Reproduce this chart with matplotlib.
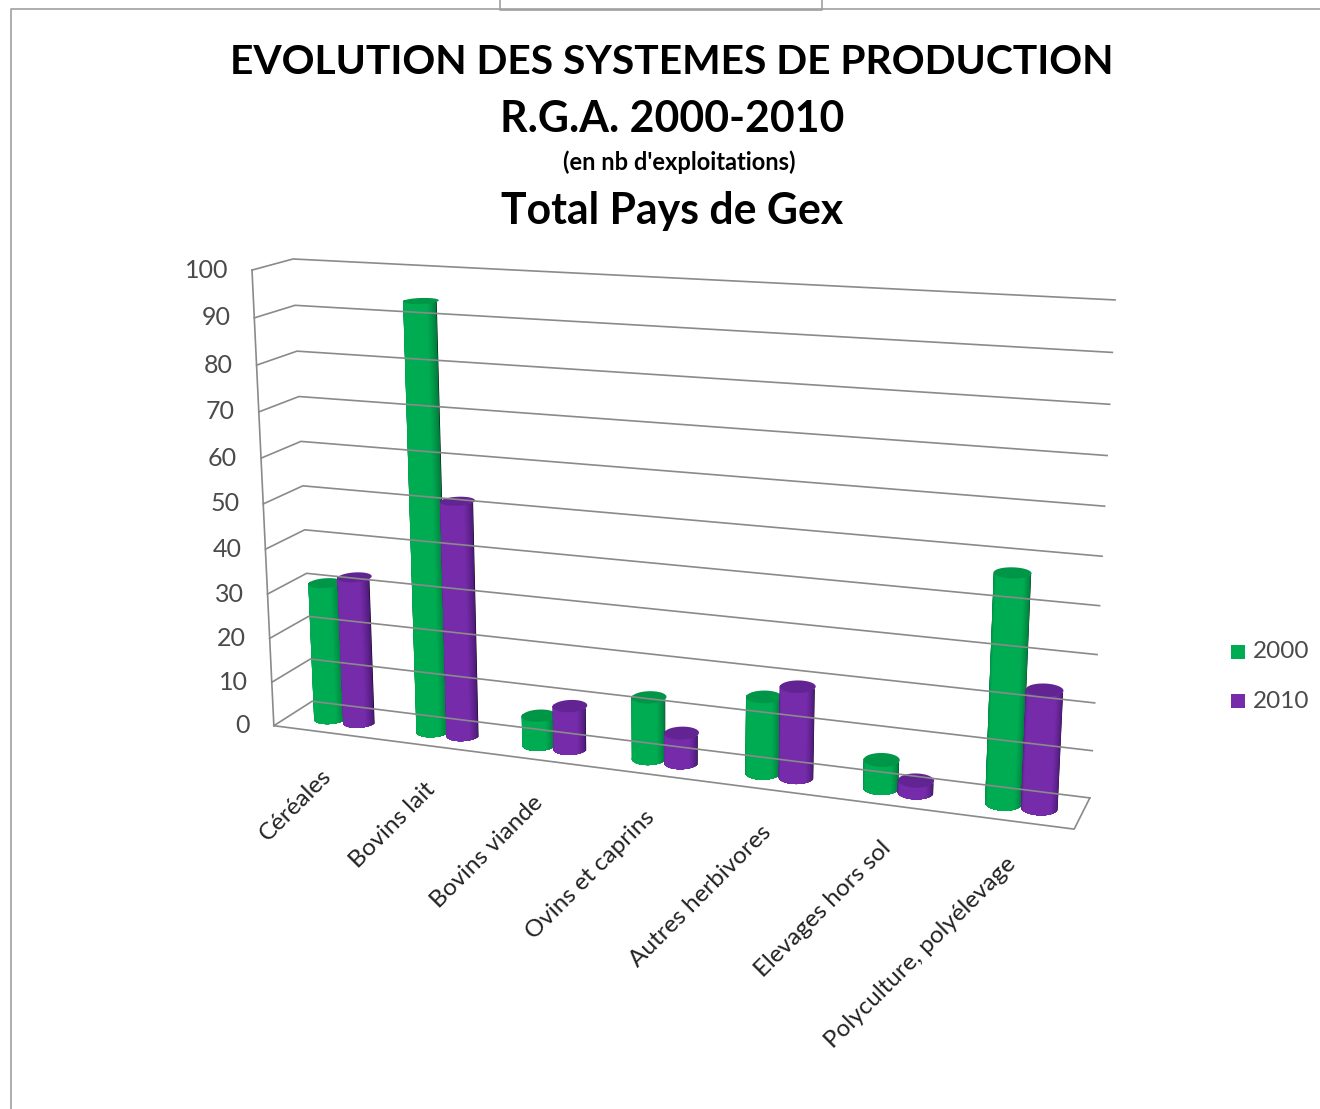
import numpy as np
import matplotlib
matplotlib.use("Agg")
import matplotlib.pyplot as plt
from matplotlib.patches import Rectangle

categories = ["Céréales", "Bovins lait", "Bovins viande", "Ovins et caprins",
              "Autres herbivores", "Elevages hors sol", "Polyculture, polyélevage"]
values_2000 = [31, 94, 6.5, 13.5, 16.5, 6, 47.5]
values_2010 = [33, 52, 9.5, 6.5, 19.5, 2.5, 24.5]
y_ticks = [0, 10, 20, 30, 40, 50, 60, 70, 80, 90, 100]
series_names = ["2000", "2010"]

GREEN = np.array([0, 172, 82]) / 255
GREEN_DARK = np.array([0, 122, 60]) / 255
PURPLE = np.array([118, 44, 170]) / 255
PURPLE_DARK = np.array([76, 26, 118]) / 255
GRID = "#8a8a8a"
TICK = "#4a4a4a"
FONT = "Lato"

# calibration of the 3D box: (x, value, depth) -> picture position
box = np.array([[0, 0, 0], [0, 100, 0], [0, 0, 1], [0, 100, 1],
                [1, 0, 1], [1, 100, 1], [1, 0, 0]], dtype=float)
img = np.array([[274, 725], [252, 270], [312, 702], [293, 259],
                [1090, 797], [1115, 300], [1074, 830]], dtype=float)

rows = []
rhs = []
for (a, b, c), (u, v) in zip(box, img):
    rows.append([a, b, c, 1, 0, 0, 0, 0, -u * a, -u * b, -u * c])
    rhs.append(u)
    rows.append([0, 0, 0, 0, a, b, c, 1, -v * a, -v * b, -v * c])
    rhs.append(v)
cam = np.append(np.linalg.lstsq(np.array(rows), np.array(rhs), rcond=None)[0], 1).reshape(3, 4)


def proj(x, val, z):
    x, val, z = np.broadcast_arrays(x, val, z)
    p = np.stack([x, val, z, np.ones_like(x, dtype=float)])
    q = cam @ p
    return q[0] / q[2], q[1] / q[2]


def cylinder(ax, xc, zc, val, light, dark):
    rx = 0.0205
    rz = 0.23
    # front half only, from the left side to the right side
    th = np.linspace(np.pi, 2 * np.pi, 61)
    x = xc + rx * np.cos(th)
    z = zc + rz * np.sin(th)
    u0, v0 = proj(x, 0.0, z)
    u1, v1 = proj(x, float(val), z)

    # nested shapes, outer dark one first, so no seams show
    for j in range(30):
        a, b = j, len(th) - j
        s = -np.sin(th[j])
        col = dark + (light - dark) * min(1, s * 1.5) ** 1.2
        ax.fill(np.r_[u0[a:b], u1[a:b][::-1]], np.r_[v0[a:b], v1[a:b][::-1]], color=col, lw=0)

    # top disc
    th2 = np.linspace(0, 2 * np.pi, 73)
    ut, vt = proj(xc + rx * np.cos(th2), float(val), zc + rz * np.sin(th2))
    ax.fill(ut, vt, color=dark + (light - dark) * 0.55, lw=0)


fig = plt.figure(figsize=(13.2, 11.09), dpi=100)
ax = fig.add_axes([0, 0, 1, 1])
ax.set_xlim(0, 1320)
ax.set_ylim(1109, 0)
ax.axis("off")

# window frame
ax.plot([11, 11, 1320], [1109, 9, 9], color="#a0a0a0", lw=1.2)
ax.plot([500, 500, 822, 822], [0, 10, 10, 0], color="#a0a0a0", lw=1.2)

# walls and floor
for t in y_ticks:
    u, v = proj(np.array([0, 0, 1]), t, np.array([0, 1, 1]))
    ax.plot(u, v, color=GRID, lw=1.2)
    lu, lv = proj(0.0, t, 0.0)
    ax.text(lu - 24, lv, str(t), ha="right", va="center", fontsize=18,
            family=FONT, color=TICK)
u, v = proj(np.array([0, 0.0]), np.array([0, 100.0]), 0.0)
ax.plot(u, v, color=GRID, lw=1.2)
u, v = proj(np.array([0, 1, 1]), 0.0, np.array([0, 0, 1]))
ax.plot(u, v, color=GRID, lw=1.2)

# cylinders
n = len(categories)
for k in range(n):
    xc = (k + 0.52) / n
    cylinder(ax, xc - 0.0205, 0.5, values_2000[k], GREEN, GREEN_DARK)
    cylinder(ax, xc + 0.0205, 0.5, values_2010[k], PURPLE, PURPLE_DARK)
    lu, lv = proj((k + 0.5) / n, 0.0, 0.0)
    ax.text(lu + 3, lv + 40, categories[k], rotation=45, rotation_mode="anchor",
            ha="right", va="center", fontsize=17.5, family=FONT, color="#222222")

# title
ax.text(672, 62, "EVOLUTION DES SYSTEMES DE PRODUCTION", ha="center", va="center",
        fontsize=29.3, family=FONT, fontweight="bold", color="black")
ax.text(672, 119, "R.G.A. 2000-2010", ha="center", va="center",
        fontsize=30.8, family=FONT, fontweight="bold", color="black")
ax.text(679, 162, "(en nb d'exploitations)", ha="center", va="center",
        fontsize=17, family=FONT, fontweight="bold", color="black")
ax.text(672, 211, "Total Pays de Gex", ha="center", va="center",
        fontsize=30.8, family=FONT, fontweight="bold", color="black")

# legend
for name, col, ly in zip(series_names, [GREEN, PURPLE], [652, 701]):
    ax.add_patch(Rectangle((1231, ly - 7), 14, 14, color=col, lw=0))
    ax.text(1253, ly, name, ha="left", va="center", fontsize=17.5, family=FONT,
            color=TICK)

fig.savefig("out.png", dpi=100)
